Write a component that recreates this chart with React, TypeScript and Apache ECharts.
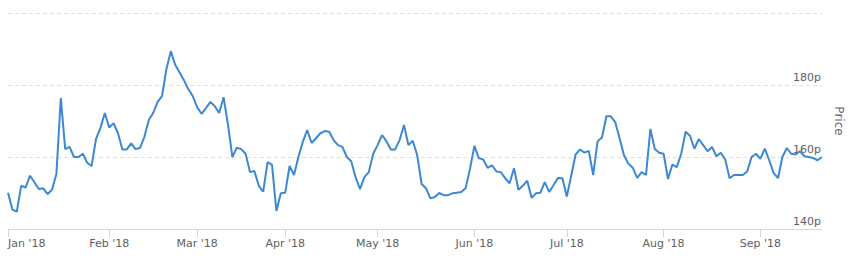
import React, { useEffect, useRef } from "react";
import * as echarts from "echarts";

const monthLabels = ["Jan '18", "Feb '18", "Mar '18", "Apr '18", "May '18", "Jun '18", "Jul '18", "Aug '18", "Sep '18"];

const jan = [150.1, 145.4, 144.8, 152.0, 151.5, 154.8, 153.0, 151.1, 151.3, 149.7, 150.9, 155.3, 176.4, 162.2, 162.8, 160.0, 160.0, 160.9, 158.4, 157.5, 165.0, 168.0, 172.2];
const feb = [168.2, 169.4, 166.6, 162.1, 162.1, 163.8, 162.2, 162.5, 165.6, 170.3, 172.2, 175.3, 176.9, 184.4, 189.4, 185.6, 183.5, 181.3, 178.8, 176.9];
const mar = [173.8, 172.0, 173.6, 175.3, 174.1, 172.2, 176.6, 168.9, 160.0, 162.6, 162.2, 160.9, 155.8, 156.1, 152.0, 150.4, 158.6, 157.8, 145.0, 149.9];
const apr = [150.1, 157.5, 155.0, 160.0, 164.2, 167.5, 163.9, 165.2, 166.6, 167.2, 167.0, 164.7, 163.3, 162.8, 160.0, 158.8, 154.4, 151.1, 154.4, 155.8, 160.9];
const may = [163.3, 166.1, 164.4, 162.1, 162.1, 164.7, 168.9, 163.3, 164.5, 160.5, 152.5, 151.3, 148.5, 148.9, 150.0, 149.4, 149.4, 149.9, 150.1, 150.3, 151.3, 156.7];
const jun = [163.1, 159.7, 159.3, 157.0, 157.7, 156.0, 155.8, 154.1, 152.7, 156.9, 150.9, 152.0, 153.4, 148.7, 149.9, 150.1, 153.0, 150.3, 152.2, 154.2, 154.1];
const jul = [149.0, 154.8, 160.7, 162.1, 161.2, 161.7, 155.0, 164.4, 165.4, 171.3, 171.3, 169.7, 165.2, 160.5, 158.1, 157.0, 154.2, 155.8, 155.0, 167.8, 162.2, 161.2];
const aug = [160.9, 153.9, 157.9, 157.2, 160.9, 167.0, 165.9, 162.3, 165.0, 163.3, 161.6, 162.8, 160.2, 161.2, 159.3, 154.1, 155.0, 155.0, 155.0, 156.0, 160.0, 160.9];
const sep = [159.5, 162.3, 159.1, 155.6, 154.1, 160.0, 162.5, 160.9, 160.7, 161.6, 160.2, 160.0, 159.7, 159.1, 160.0];

const months = [jan, feb, mar, apr, may, jun, jul, aug, sep];

const yMin = 140;
const yMax = 200;
const yStep = 20;
const axisName = "Price";

export default function App() {
  const ref = useRef<HTMLDivElement>(null);

  useEffect(() => {
    document.body.style.margin = "0";
    if (!ref.current) return;
    const chart = echarts.init(ref.current, undefined, { renderer: "svg" });

    const categories: string[] = [];
    const values: number[] = [];
    months.forEach((arr, m) => {
      arr.forEach((v, d) => {
        categories.push(monthLabels[m] + "#" + d);
        values.push(v);
      });
    });
    const isMonthStart = (_i: number, val: string) => String(val).endsWith("#0");

    const font = "'DejaVu Sans', sans-serif";

    chart.setOption({
      animation: false,
      grid: { left: 8, right: 26, top: 13, bottom: 34, containLabel: false, outerBoundsMode: "none" },
      xAxis: {
        type: "category",
        data: categories,
        boundaryGap: false,
        axisLine: { show: true, lineStyle: { color: "#ccd6eb", width: 1 } },
        axisTick: {
          show: true,
          interval: isMonthStart,
          length: 8,
          lineStyle: { color: "#ccd6eb", width: 1 },
        },
        axisLabel: {
          interval: isMonthStart,
          formatter: (val: string) => String(val).split("#")[0],
          color: "#606060",
          fontSize: 11,
          fontFamily: font,
          margin: 9,
          alignMinLabel: "left",
        },
        splitLine: { show: false },
      },
      yAxis: {
        type: "value",
        position: "right",
        min: yMin,
        max: yMax,
        interval: yStep,
        name: axisName,
        nameLocation: "middle",
        nameRotate: -90,
        nameGap: 11,
        nameTextStyle: { color: "#666666", fontSize: 12, fontFamily: font },
        axisLine: { show: false },
        axisTick: { show: false },
        axisLabel: {
          inside: true,
          margin: 1,
          showMaxLabel: false,
          formatter: (v: number) => v + "p",
          color: "#606060",
          fontSize: 11,
          fontFamily: font,
          verticalAlign: "bottom",
          padding: [0, 0, 2, 0],
        },
        splitLine: { show: true, lineStyle: { color: "#e0e0e0", type: [4, 3], width: 1 } },
      },
      series: [
        {
          type: "line",
          data: values,
          showSymbol: false,
          symbol: "none",
          lineStyle: { color: "#3d88d2", width: 2 },
          itemStyle: { color: "#3d88d2" },
        },
      ],
    });

    return () => chart.dispose();
  }, []);

  return <div ref={ref} style={{ width: 848, height: 263 }} />;
}
